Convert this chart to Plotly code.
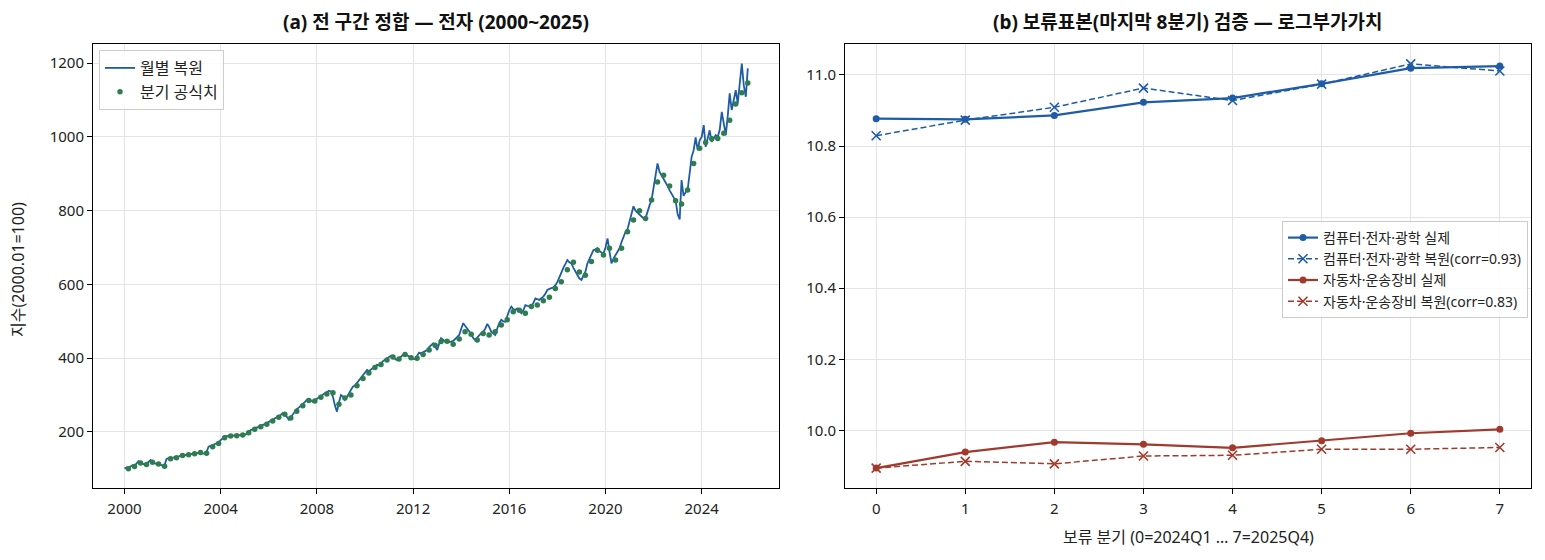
import plotly.graph_objects as go

# ---------------- data ----------------
years = list(range(2000, 2026))
month_dates = [f"{y}-{m:02d}-01" for y in years for m in range(1, 13)]
quarter_dates = [f"{y}-{m:02d}-01" for y in years for m in (3, 6, 9, 12)]

monthly_recon = [
    101, 104, 103, 107, 110, 108, 114, 121, 118, 115, 111, 114,   # 2000
    119, 124, 118, 116, 113, 115, 111, 108, 110, 127, 129, 131,   # 2001
    129, 132, 130, 134, 136, 137, 136, 139, 138, 140, 141, 142,   # 2002
    143, 145, 144, 142, 141, 146, 160, 162, 165, 167, 169, 172,   # 2003
    178, 184, 187, 189, 188, 190, 189, 191, 190, 192, 191, 193,   # 2004
    192, 196, 201, 205, 207, 209, 211, 214, 216, 219, 221, 224,   # 2005
    227, 230, 233, 235, 240, 244, 246, 251, 249, 241, 233, 240,   # 2006
    248, 258, 262, 266, 272, 276, 281, 287, 289, 285, 282, 286,   # 2007
    290, 294, 299, 301, 305, 308, 312, 310, 295, 272, 255, 280,   # 2008
    300, 296, 287, 295, 305, 315, 323, 326, 333, 340, 345, 352,   # 2009
    358, 368, 365, 370, 374, 378, 382, 380, 387, 392, 396, 400,   # 2010
    403, 407, 402, 398, 395, 400, 405, 410, 413, 408, 404, 400,   # 2011
    398, 397, 408, 415, 413, 416, 420, 422, 430, 436, 440, 432,   # 2012
    422, 440, 454, 450, 445, 446, 444, 445, 447, 452, 458, 463,   # 2013
    480, 495, 488, 481, 474, 466, 455, 449, 456, 463, 468, 472,   # 2014
    480, 493, 485, 472, 468, 463, 480, 495, 504, 500, 499, 516,   # 2015
    530, 540, 533, 531, 535, 530, 522, 530, 544, 542, 541, 540,   # 2016
    550, 562, 560, 558, 563, 567, 575, 585, 588, 590, 592, 598,   # 2017
    607, 620, 634, 645, 655, 666, 660, 657, 645, 634, 625, 616,   # 2018
    612, 625, 634, 657, 670, 684, 693, 695, 698, 690, 686, 684,   # 2019
    700, 725, 690, 657, 670, 680, 690, 698, 715, 730, 743, 750,   # 2020
    770, 790, 812, 800, 795, 790, 785, 779, 780, 800, 815, 829,   # 2021
    860, 900, 928, 905, 896, 885, 875, 867, 855, 845, 835, 827,   # 2022
    790, 776, 883, 840, 850, 856, 900, 946, 964, 999, 964, 991,   # 2023
    1000, 1032, 973, 995, 1018, 987, 995, 1005, 1000, 1020, 1068, 1030,  # 2024
    1005, 1060, 1118, 1073, 1100, 1127, 1091, 1150, 1199, 1140, 1109, 1186,  # 2025
]

quarterly_official = [
    100, 106, 116, 112,   # 2000
    118, 113, 107, 127,   # 2001
    130, 136, 138, 141,   # 2002
    144, 142, 160, 169,   # 2003
    184, 189, 190, 192,   # 2004
    198, 207, 214, 221,   # 2005
    230, 240, 248, 238,   # 2006
    256, 271, 285, 284,   # 2007
    294, 303, 306, 275,   # 2008
    292, 300, 325, 345,   # 2009
    360, 375, 383, 395,   # 2010
    403, 398, 410, 401,   # 2011
    400, 410, 422, 435,   # 2012
    445, 446, 438, 452,   # 2013
    472, 465, 449, 467,   # 2014
    463, 472, 490, 504,   # 2015
    526, 530, 522, 540,   # 2016
    544, 556, 565, 589,   # 2017
    607, 640, 660, 634,   # 2018
    625, 662, 693, 680,   # 2019
    698, 666, 698, 743,   # 2020
    775, 800, 779, 829,   # 2021
    878, 896, 867, 827,   # 2022
    818, 856, 928, 969,   # 2023
    985, 995, 996, 1010,  # 2024
    1045, 1089, 1120, 1146,  # 2025
]

holdout_q = [0, 1, 2, 3, 4, 5, 6, 7]
elec_actual = [10.877, 10.875, 10.886, 10.923, 10.935, 10.975, 11.019, 11.025]
elec_recon = [10.829, 10.873, 10.909, 10.963, 10.928, 10.974, 11.031, 11.011]
auto_actual = [9.894, 9.939, 9.967, 9.961, 9.951, 9.971, 9.992, 10.003]
auto_recon = [9.894, 9.913, 9.906, 9.928, 9.930, 9.947, 9.947, 9.952]

left_tick_years = [2000, 2004, 2008, 2012, 2016, 2020, 2024]
left_y_ticks = [200, 400, 600, 800, 1000, 1200]
right_y_ticks = [10.0, 10.2, 10.4, 10.6, 10.8, 11.0]

# ---------------- style ----------------
FONT = "Noto Sans, Noto Sans CJK KR"
BLUE = "#1f5ca6"
GREEN = "#2e7d4f"
RED = "#a03a2d"
GRID = "#e4e4e4"
DASH = "6px,3px"

W, H = 1545, 560
L1, R1 = 93, 779
L2, R2 = 845, 1531
TOP, BOT = 44, 488

fig = go.Figure()

fig.add_trace(go.Scatter(
    x=month_dates, y=monthly_recon, mode="lines", name="월별 복원",
    line=dict(color=BLUE, width=1.8), xaxis="x", yaxis="y", legend="legend"))
fig.add_trace(go.Scatter(
    x=quarter_dates, y=quarterly_official, mode="markers", name="분기 공식치",
    marker=dict(color=GREEN, size=5.5), xaxis="x", yaxis="y", legend="legend"))

fig.add_trace(go.Scatter(
    x=holdout_q, y=elec_actual, mode="lines+markers", name="컴퓨터·전자·광학 실제",
    line=dict(color=BLUE, width=2.2), marker=dict(symbol="circle", size=7, color=BLUE),
    xaxis="x2", yaxis="y2", legend="legend2"))
fig.add_trace(go.Scatter(
    x=holdout_q, y=elec_recon, mode="lines+markers", name="컴퓨터·전자·광학 복원(corr=0.93)",
    line=dict(color=BLUE, width=1.5, dash=DASH),
    marker=dict(symbol="x-thin", size=9, color=BLUE, line=dict(color=BLUE, width=1.6)),
    xaxis="x2", yaxis="y2", legend="legend2"))
fig.add_trace(go.Scatter(
    x=holdout_q, y=auto_actual, mode="lines+markers", name="자동차·운송장비 실제",
    line=dict(color=RED, width=2.2), marker=dict(symbol="circle", size=7, color=RED),
    xaxis="x2", yaxis="y2", legend="legend2"))
fig.add_trace(go.Scatter(
    x=holdout_q, y=auto_recon, mode="lines+markers", name="자동차·운송장비 복원(corr=0.83)",
    line=dict(color=RED, width=1.5, dash=DASH),
    marker=dict(symbol="x-thin", size=9, color=RED, line=dict(color=RED, width=1.6)),
    xaxis="x2", yaxis="y2", legend="legend2"))

axis_common = dict(
    showline=True, linecolor="black", linewidth=1, mirror=True,
    ticks="outside", ticklen=5, tickwidth=1, tickcolor="black",
    showgrid=True, gridcolor=GRID, gridwidth=1, zeroline=False,
    tickfont=dict(family=FONT, size=15, color="#222"),
)

fig.update_layout(
    width=W, height=H,
    margin=dict(l=0, r=0, t=0, b=0),
    paper_bgcolor="white", plot_bgcolor="white",
    font=dict(family=FONT, size=15, color="#222"),
    xaxis=dict(domain=[L1 / W, R1 / W], anchor="y", type="date",
               range=["1998-09-10", "2027-03-20"],
               tickvals=[f"{y}-01-01" for y in left_tick_years],
               ticktext=[str(y) for y in left_tick_years],
               ticklabelstandoff=2, **axis_common),
    yaxis=dict(domain=[1 - BOT / H, 1 - TOP / H], anchor="x",
               range=[48, 1252], tickvals=left_y_ticks, **axis_common),
    xaxis2=dict(domain=[L2 / W, R2 / W], anchor="y2",
                range=[-0.35, 7.35], tickvals=holdout_q,
                ticklabelstandoff=2, **axis_common),
    yaxis2=dict(domain=[1 - BOT / H, 1 - TOP / H], anchor="x2",
                range=[9.838, 11.087], tickvals=right_y_ticks, tickformat=".1f", **axis_common),
    legend=dict(x=99 / W, y=1 - 50 / H, xanchor="left", yanchor="top",
                bgcolor="rgba(255,255,255,0.85)", bordercolor="#cccccc", borderwidth=1,
                font=dict(family=FONT, size=16, color="#222"), tracegroupgap=2),
    legend2=dict(x=1528 / W, y=1 - 221 / H, xanchor="right", yanchor="top",
                 bgcolor="rgba(255,255,255,0.85)", bordercolor="#cccccc", borderwidth=1,
                 font=dict(family=FONT, size=14, color="#222"), tracegroupgap=0),
    showlegend=True,
)

annotations = [
    dict(text="<b>(a) 전 구간 정합 — 전자 (2000~2025)</b>", x=(L1 + R1) / 2 / W, y=1 - 22 / H,
         xref="paper", yref="paper", showarrow=False, xanchor="center", yanchor="middle",
         font=dict(family=FONT, size=19, color="#111")),
    dict(text="<b>(b) 보류표본(마지막 8분기) 검증 — 로그부가가치</b>", x=(L2 + R2) / 2 / W, y=1 - 22 / H,
         xref="paper", yref="paper", showarrow=False, xanchor="center", yanchor="middle",
         font=dict(family=FONT, size=19, color="#111")),
    dict(text="지수(2000.01=100)", x=18 / W, y=1 - 270 / H, textangle=-90,
         xref="paper", yref="paper", showarrow=False, xanchor="center", yanchor="middle",
         font=dict(family=FONT, size=16, color="#222")),
    dict(text="보류 분기 (0=2024Q1 … 7=2025Q4)", x=(L2 + R2) / 2 / W, y=1 - 537 / H,
         xref="paper", yref="paper", showarrow=False, xanchor="center", yanchor="middle",
         font=dict(family=FONT, size=16, color="#222")),
]
fig.update_layout(annotations=annotations)

fig.write_html("out.html")
